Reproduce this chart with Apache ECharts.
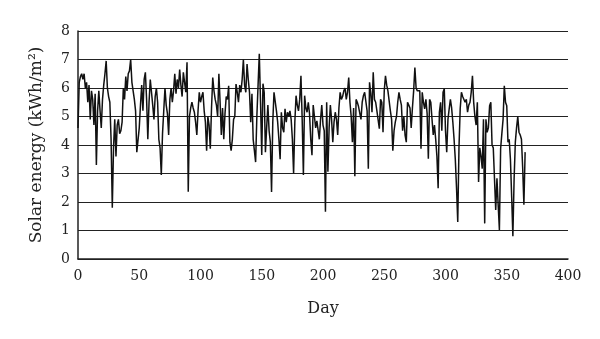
<!DOCTYPE html>
<html>
<head>
<meta charset="utf-8">
<script src="https://cdn.jsdelivr.net/npm/echarts@6/dist/echarts.min.js"></script>
<style>
  html, body { margin: 0; padding: 0; background: #fff; }
  #chart { width: 600px; height: 339px; }
</style>
</head>
<body>
<div id="chart"></div>
<script>
// daily solar energy, day 0 .. 365
var solar = [
  4.6, 6.2, 6.4, 6.5, 6.3, 6.5, 6.0, 6.2, 5.5, 6.1,
  4.9, 5.9, 5.6, 4.7, 5.8, 3.3, 5.2, 5.9, 5.2, 4.6,
  5.6, 6.1, 6.5, 6.95, 6.0, 5.7, 5.5, 4.2, 1.8, 3.9,
  4.9, 3.6, 4.7, 4.9, 4.4, 4.5, 4.8, 6.0, 5.6, 6.4,
  5.9, 6.5, 6.6, 7.0, 6.2, 5.9, 5.6, 5.2, 3.75, 3.8,
  4.6, 5.4, 6.1, 5.2, 6.3, 6.55, 5.6, 4.2, 5.5, 6.3,
  5.85, 5.4, 4.9, 5.7, 6.0, 5.5, 4.2, 3.9, 2.95, 4.4,
  5.2, 6.0, 5.4, 5.1, 4.35, 5.6, 6.0, 5.5, 5.9, 6.5,
  5.8, 6.3, 6.0, 6.65, 6.1, 5.7, 6.55, 6.2, 5.85, 6.9,
  2.36, 5.0, 5.3, 5.5, 5.3, 5.15, 4.8, 4.35, 5.2, 5.85,
  5.5, 5.7, 5.85, 5.2, 4.8, 3.8, 5.0, 4.7, 3.87, 5.3,
  6.37, 5.9, 5.6, 5.4, 5.0, 6.5, 5.5, 4.35, 5.3, 4.2,
  5.1, 5.7, 5.6, 6.08, 4.1, 3.8, 4.2, 4.9, 5.0, 6.14,
  5.85, 5.5, 6.1, 5.85, 6.3, 7.0, 6.1, 5.85, 6.84, 6.3,
  5.85, 4.8, 5.8, 4.2, 3.8, 3.4, 5.0, 6.1, 7.2, 5.5,
  3.65, 6.15, 5.85, 3.75, 4.6, 5.4, 4.5, 4.1, 2.35, 4.8,
  5.85, 5.9, 5.2, 4.8, 4.2, 3.5, 5.15, 4.6, 4.45, 5.27,
  4.8, 5.15, 5.0, 5.2, 4.9, 4.2, 3.0, 4.8, 5.73, 5.4,
  5.2, 5.6, 6.43, 4.9, 2.95, 5.73, 5.3, 5.15, 5.5, 5.1,
  4.2, 3.64, 5.4, 5.0, 4.6, 4.85, 4.8, 4.2, 4.9, 5.4,
  4.7, 4.5, 1.66, 5.5, 3.06, 4.6, 5.4, 4.9, 4.1, 4.8,
  5.15, 4.9, 4.35, 5.3, 5.85, 5.6, 5.7, 5.9, 6.0, 5.6,
  5.85, 6.37, 5.5, 5.0, 4.1, 5.3, 2.9, 5.6, 5.5, 5.35,
  5.4, 4.9, 5.5, 5.73, 5.85, 5.85, 5.2, 3.17, 6.2, 5.8,
  5.15, 6.55, 5.6, 5.5, 5.2, 5.15, 4.57, 5.6, 5.5, 4.45,
  5.9, 6.43, 6.1, 5.9, 5.85, 5.2, 4.9, 3.8, 4.5, 4.8,
  5.0, 5.5, 5.85, 5.6, 5.4, 4.5, 5.0, 4.35, 4.1, 5.5,
  5.4, 5.3, 4.6, 5.3, 5.9, 6.72, 6.0, 5.9, 5.85, 5.9,
  3.87, 5.85, 5.5, 5.27, 5.6, 5.1, 3.52, 5.6, 5.5, 4.9,
  4.35, 4.7, 4.2, 3.6, 2.48, 5.15, 5.5, 4.5, 5.85, 5.97,
  4.5, 3.75, 4.9, 5.27, 5.6, 5.3, 4.8, 4.2, 3.5, 2.5,
  1.3, 3.9, 5.27, 5.85, 5.7, 5.73, 5.5, 5.6, 5.15, 5.4,
  5.5, 5.85, 6.43, 5.5, 5.0, 4.7, 5.5, 2.7, 3.9, 3.6,
  3.17, 4.9, 1.25, 4.9, 4.45, 4.6, 5.38, 5.5, 4.0, 3.9,
  3.87, 1.72, 2.83, 1.9, 1.02, 3.87, 4.4, 4.9, 6.08, 5.5,
  5.38, 4.1, 4.2, 3.5, 2.2, 0.8, 2.8, 4.1, 4.6, 5.0,
  4.45, 4.35, 4.2, 3.2, 1.9, 3.75
];
var dayTicks = [0, 50, 100, 150, 200, 250, 300, 350, 400];
var energyTicks = [0, 1, 2, 3, 4, 5, 6, 7, 8];

var points = solar.map(function (v, i) { return [i, v]; });
var font = "'DejaVu Serif', 'Liberation Serif', serif";

var myChart = echarts.init(document.getElementById('chart'));
var option = {
    animation: false,
    grid: { left: 78, right: 32, top: 31, bottom: 80 },
    xAxis: {
        type: 'value',
        min: dayTicks[0],
        max: dayTicks[dayTicks.length - 1],
        interval: 50,
        name: 'Day',
        nameLocation: 'middle',
        nameGap: 42,
        nameTextStyle: { fontFamily: font, fontSize: 16, color: '#222' },
        axisLine: { show: true, lineStyle: { color: '#222', width: 1.5 } },
        axisTick: { show: false },
        splitLine: { show: false },
        axisLabel: { fontFamily: font, fontSize: 14, color: '#222', margin: 10 }
    },
    yAxis: {
        type: 'value',
        min: energyTicks[0],
        max: energyTicks[energyTicks.length - 1],
        interval: 1,
        name: 'Solar energy (kWh/m\u00b2)',
        nameLocation: 'middle',
        nameGap: 33,
        nameTextStyle: { fontFamily: font, fontSize: 17, color: '#222' },
        axisLine: { show: true, lineStyle: { color: '#222', width: 1.5 } },
        axisTick: { show: false },
        splitLine: { show: true, lineStyle: { color: '#222', width: 1 } },
        axisLabel: { fontFamily: font, fontSize: 14, color: '#222', margin: 8 }
    },
    series: [{
        type: 'line',
        data: points,
        showSymbol: false,
        lineStyle: { color: '#111', width: 1.5 }
    }]
};
myChart.setOption(option);
</script>
</body>
</html>
